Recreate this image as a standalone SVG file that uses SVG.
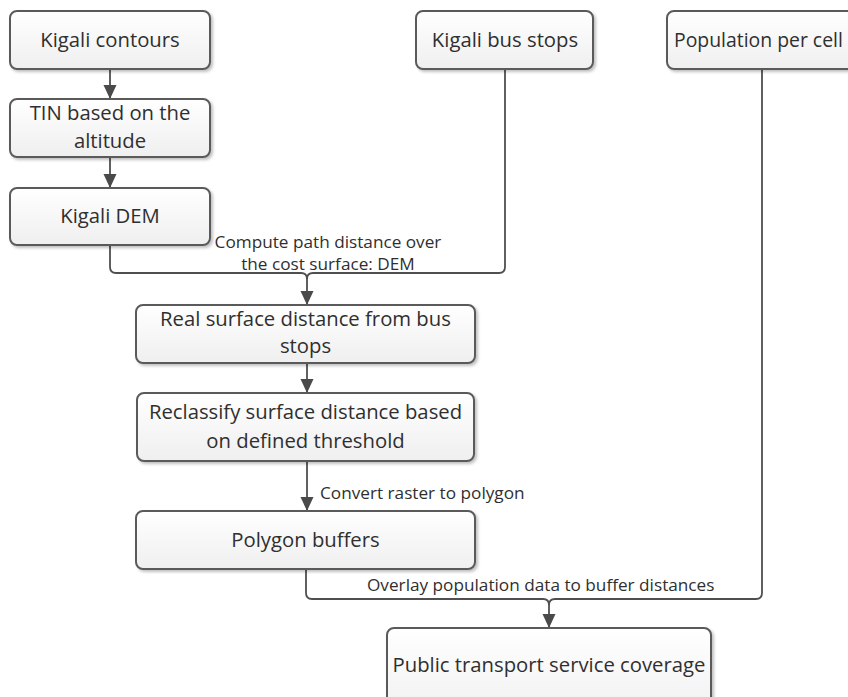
<svg xmlns="http://www.w3.org/2000/svg" width="848" height="697" viewBox="0 0 848 697">
  <defs>
    <linearGradient id="boxFill" x1="0" y1="0" x2="0" y2="1">
      <stop offset="0" stop-color="#ffffff"/>
      <stop offset="1" stop-color="#efefef"/>
    </linearGradient>
    <filter id="shadow" x="-10%" y="-10%" width="120%" height="130%">
      <feGaussianBlur in="SourceAlpha" stdDeviation="1.5"/>
      <feOffset dx="2" dy="2" result="b"/>
      <feComponentTransfer><feFuncA type="linear" slope="0.25"/></feComponentTransfer>
      <feMerge><feMergeNode/><feMergeNode in="SourceGraphic"/></feMerge>
    </filter>
    <marker id="arrow" viewBox="0 0 14 14" refX="14" refY="7" markerWidth="14" markerHeight="14" markerUnits="userSpaceOnUse" orient="auto">
      <path d="M0,0.5 L14,7 L0,13.5 z" fill="#4a4a4a"/>
    </marker>
  </defs>
  <style>
    .box { fill: url(#boxFill); stroke: #5a5a5a; stroke-width: 2; filter: url(#shadow); }
    .t { font-family: "Open Sans", "Noto Sans", "DejaVu Sans", sans-serif; font-size: 20.3px; fill: #2f2f2f; text-anchor: middle; }
    .ts { font-family: "Open Sans", "Noto Sans", "DejaVu Sans", sans-serif; font-size: 19.4px; fill: #2f2f2f; text-anchor: start; }
    .lbl { font-family: "Open Sans", "Noto Sans", "DejaVu Sans", sans-serif; font-size: 17.2px; fill: #2f2f2f; }
    .mid { text-anchor: middle; }
    .c { fill: none; stroke: #4f4f4f; stroke-width: 1.8; }
  </style>
  <rect width="848" height="697" fill="#ffffff"/>

  <!-- connectors -->
  <g id="connectors">
    <path class="c" d="M110,69 V99" marker-end="url(#arrow)"/>
    <path class="c" d="M110,157 V188" marker-end="url(#arrow)"/>
    <path class="c" d="M110,245 V267 Q110,273 116,273 H301 Q307,273 307,279 V305" marker-end="url(#arrow)"/>
    <path class="c" d="M505,69 V267 Q505,273 499,273 H313 Q307,273 307,279"/>
    <path class="c" d="M307,363 V393" marker-end="url(#arrow)"/>
    <path class="c" d="M307,461 V511" marker-end="url(#arrow)"/>
    <path class="c" d="M306,569 V593 Q306,599 312,599 H543 Q549,599 549,605 V628" marker-end="url(#arrow)"/>
    <path class="c" d="M762,69 V593 Q762,599 756,599 H555 Q549,599 549,605"/>
    <text class="lbl mid" x="328" y="248">Compute path distance over</text>
    <text class="lbl mid" x="328" y="270">the cost surface: DEM</text>
    <text class="lbl" x="320" y="499">Convert raster to polygon</text>
    <text class="lbl" x="367" y="591">Overlay population data to buffer distances</text>
  </g>

  <g id="kigali-contours">
    <rect class="box" x="10" y="11" width="200" height="58" rx="7"/>
    <text class="t" x="110" y="47">Kigali contours</text>
  </g>
  <g id="tin">
    <rect class="box" x="10" y="99" width="200" height="58" rx="7"/>
    <text class="t" x="110" y="120">TIN based on the</text>
    <text class="t" x="110" y="148">altitude</text>
  </g>
  <g id="kigali-dem">
    <rect class="box" x="10" y="188" width="200" height="57" rx="7"/>
    <text class="t" x="110" y="223">Kigali DEM</text>
  </g>
  <g id="bus-stops">
    <rect class="box" x="416" y="11" width="177" height="58" rx="7"/>
    <text class="t" x="505" y="47">Kigali bus stops</text>
  </g>
  <g id="population">
    <rect class="box" x="667" y="11" width="200" height="58" rx="7"/>
    <text class="ts" x="674" y="47">Population per cell</text>
  </g>
  <g id="surface-distance">
    <rect class="box" x="136" y="305" width="339" height="58" rx="7"/>
    <text class="t" x="305.5" y="326">Real surface distance from bus</text>
    <text class="t" x="305.5" y="353">stops</text>
  </g>
  <g id="reclassify">
    <rect class="box" x="137" y="393" width="337" height="68" rx="7"/>
    <text class="t" x="305.5" y="419">Reclassify surface distance based</text>
    <text class="t" x="305.5" y="448">on defined threshold</text>
  </g>
  <g id="polygon-buffers">
    <rect class="box" x="136" y="511" width="339" height="58" rx="7"/>
    <text class="t" x="305.5" y="547">Polygon buffers</text>
  </g>
  <g id="coverage">
    <rect class="box" x="387" y="628" width="324" height="100" rx="7"/>
    <text class="t" x="549" y="672">Public transport service coverage</text>
  </g>
</svg>
